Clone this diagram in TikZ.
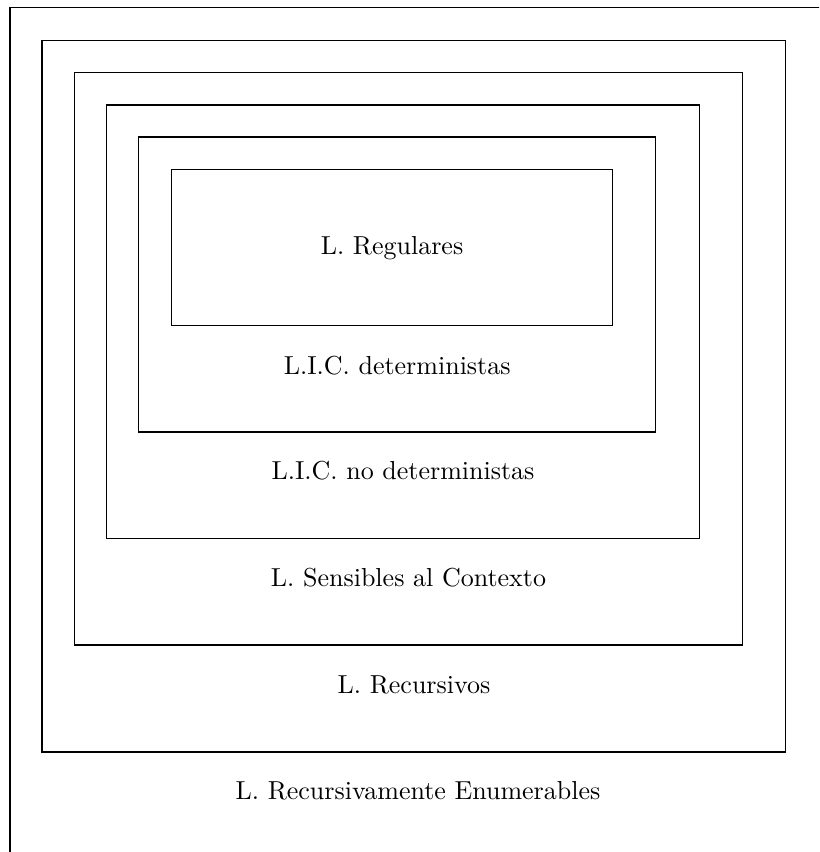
\documentclass[tikz,border=0pt]{standalone}
\usetikzlibrary{fit}
\tikzstyle{set box}=[draw, inner sep=0, thin]
\tikzstyle{set label}=[anchor=base, inner sep=0]

\begin{document}
\begin{tikzpicture}[x=0.3846pt, y=-0.3846pt]
      \useasboundingbox (0, 0) rectangle (819, 852);
      \clip (0, 0) rectangle (819, 852);

      \coordinate (re_nw) at (10, 7.7);
      \coordinate (re_se) at (826, 859);
      \coordinate (rec_nw) at (42, 40.3);
      \coordinate (rec_se) at (785.7, 752);
      \coordinate (sc_nw) at (74.3, 72.3);
      \coordinate (sc_se) at (742.7, 645);
      \coordinate (cf_nw) at (106.7, 105);
      \coordinate (cf_se) at (699.3, 538.7);
      \coordinate (dcf_nw) at (138.7, 137);
      \coordinate (dcf_se) at (655.7, 432);
      \coordinate (reg_nw) at (171.3, 169.7);
      \coordinate (reg_se) at (612.7, 325.3);

      \node[set box, fit=(re_nw) (re_se)] (re) {};
      \node[set box, fit=(rec_nw) (rec_se)] (rec) {};
      \node[set box, fit=(sc_nw) (sc_se)] (sc) {};
      \node[set box, fit=(cf_nw) (cf_se)] (cf) {};
      \node[set box, fit=(dcf_nw) (dcf_se)] (dcf) {};
      \node[set box, fit=(reg_nw) (reg_se)] (reg) {};

      \node[set label] (reg_label) at (392, 254.3) {L. Regulares};
      \node[set label] (dcf_label) at (397.2, 374) {L.I.C. deterministas};
      \node[set label] (cf_label) at (403, 479.3) {L.I.C. no deterministas};
      \node[set label] (sc_label) at (408.5, 586.7) {L. Sensibles al Contexto};
      \node[set label] (rec_label) at (414, 693.3) {L. Recursivos};
      \node[set label] (re_label) at (418, 799.3) {L. Recursivamente Enumerables};
    \end{tikzpicture}
\end{document}
